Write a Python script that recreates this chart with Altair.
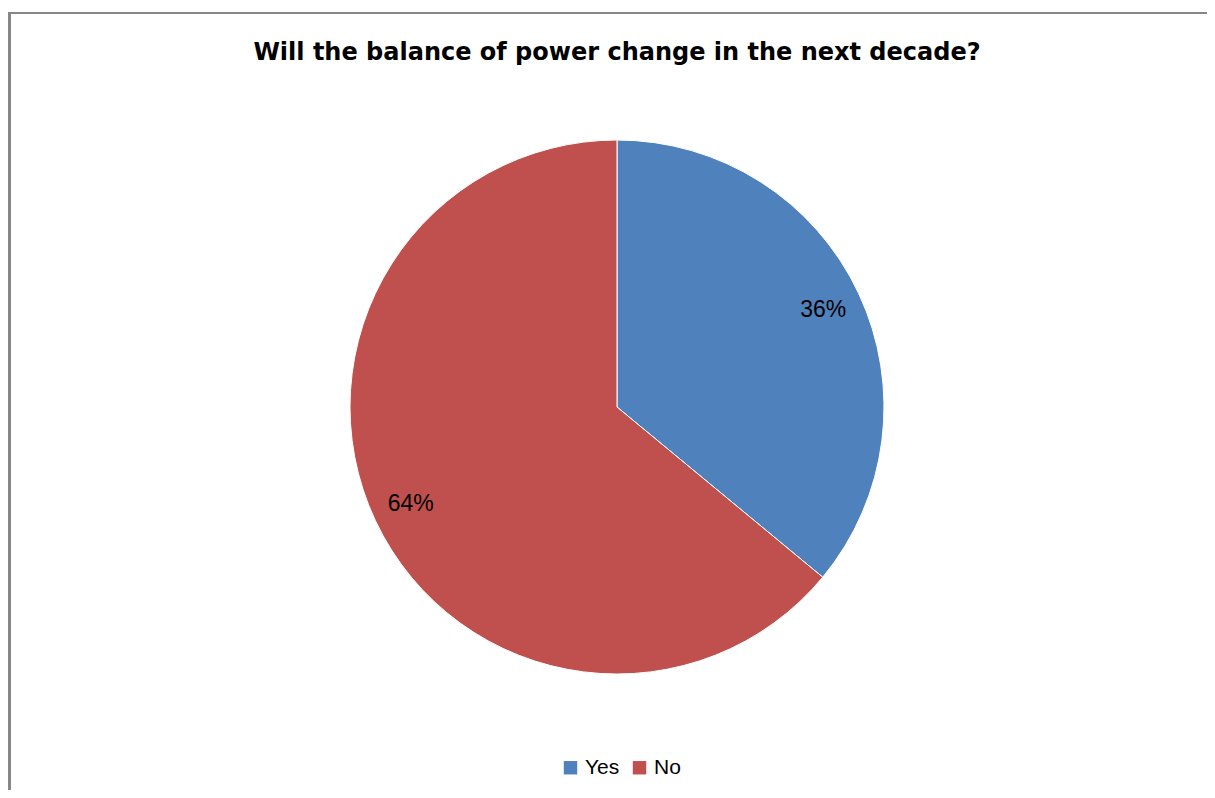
import altair as alt
import pandas as pd

categories = ["Yes", "No"]
values = [36, 64]
labels = ["36%", "64%"]
order_idx = [0, 1]
colors = ["#4F81BD", "#C0504D"]
title_text = "Will the balance of power change in the next decade?"

df = pd.DataFrame({"answer": categories, "value": values, "label": labels, "idx": order_idx})

W, H = 1199, 782
CX, CY, R = 609, 399, 267

base = alt.Chart(df).encode(
    theta=alt.Theta("value:Q", stack=True),
    order=alt.Order("idx:Q", sort="ascending"),
)

pie = base.mark_arc(radius=R, stroke="white", strokeWidth=1).encode(
    x=alt.value(CX),
    y=alt.value(CY),
    color=alt.Color(
        "answer:N",
        scale=alt.Scale(domain=categories, range=colors),
        sort=categories,
        legend=alt.Legend(
            title=None,
            orient="none",
            legendX=552,
            legendY=749,
            direction="horizontal",
            symbolType="square",
            symbolSize=180,
            symbolStrokeWidth=0,
            labelFont="Liberation Sans",
            labelFontSize=21,
            labelColor="#000000",
            labelOffset=4,
            columnPadding=9,
            padding=0,
        ),
    ),
)

text = base.mark_text(
    radius=228, font="Liberation Sans", fontSize=23, color="#000000"
).encode(
    x=alt.value(CX),
    y=alt.value(CY),
    text="label:N",
)

title = alt.Chart(pd.DataFrame({"t": [title_text]})).mark_text(
    font="DejaVu Sans", fontWeight="bold", fontSize=24, color="#000000",
    align="center", baseline="alphabetic",
).encode(x=alt.value(609), y=alt.value(52), text="t:N")

top_rule = alt.Chart(pd.DataFrame({"a": [0]})).mark_rule(
    color="#868686", strokeWidth=2
).encode(x=alt.value(0), x2=alt.value(W), y=alt.value(5))

left_rule = alt.Chart(pd.DataFrame({"a": [0]})).mark_rule(
    color="#868686", strokeWidth=3
).encode(x=alt.value(1.5), y=alt.value(5), y2=alt.value(H))

chart = alt.layer(pie, text, title, top_rule, left_rule).properties(
    width=W, height=H, autosize=alt.AutoSizeParams(type="none"), padding=0,
    background="white",
).configure_view(stroke=None)

chart.save("out.html", embed_options={"renderer": "svg", "actions": False})
